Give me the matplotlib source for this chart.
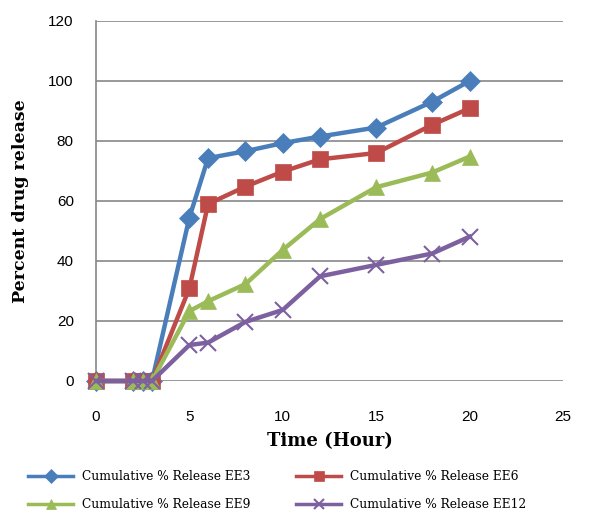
import matplotlib.pyplot as plt
from matplotlib.lines import Line2D

time_h = [0, 2, 2.5, 3, 5, 6, 8, 10, 12, 15, 18, 20]
ee3 = [0, 0, 0, 0, 54.5, 74.3, 76.6, 79.3, 81.5, 84.5, 93.1, 100]
ee6 = [0, 0, 0, 0, 30.9, 59.0, 64.8, 69.8, 73.9, 76.0, 85.4, 90.9]
ee9 = [0, 0, 0, 0, 23.3, 26.6, 32.3, 43.7, 54.0, 64.6, 69.5, 74.8]
ee12 = [0, 0, 0, 0, 12.0, 12.8, 19.7, 23.7, 34.9, 38.7, 42.5, 48.1]
labels = ['Cumulative % Release EE3', 'Cumulative % Release EE6',
          'Cumulative % Release EE9', 'Cumulative % Release EE12']

colors = ['#4A7EBB', '#BE4B48', '#9BBB59', '#7D60A0']
markers = ['D', 's', '^', 'x']
msizes = [10, 12, 12, 11]

fig = plt.figure(figsize=(6.01, 5.14), dpi=100)
ax = fig.add_axes([96/601, 1-381/514, (563-96)/601, (381-21)/514])

for y, c, m, ms in zip([ee3, ee6, ee9, ee12], colors, markers, msizes):
    ax.plot(time_h, y, color=c, lw=3.2, marker=m, ms=ms, mew=1.5 if m == 'x' else 0.5,
            mec=c, clip_on=False, zorder=3)

ax.set_xlim(0, 25)
ax.set_ylim(0, 120)
ax.set_xticks(range(0, 30, 5))
ax.set_yticks(range(0, 140, 20))
ax.grid(axis='y', color='#888888', lw=1.2)
ax.set_axisbelow(True)
for s in ['top', 'right', 'bottom']:
    ax.spines[s].set_visible(False)
ax.spines['left'].set_color('#888888')
ax.spines['left'].set_linewidth(1.2)
ax.tick_params(length=0, labelsize=11)
ax.tick_params(axis='x', pad=21)
ax.tick_params(axis='y', pad=16)
for t in ax.get_xticklabels() + ax.get_yticklabels():
    t.set_fontfamily('Liberation Sans')

ax.set_xlabel('Time (Hour)', fontfamily='DejaVu Serif', fontweight='bold', fontsize=13, labelpad=6)
ax.set_ylabel('Percent drug release', fontfamily='DejaVu Serif', fontweight='bold', fontsize=12.5)
ax.yaxis.set_label_coords(-(96-29)/467, 0.5)

handles = [Line2D([], [], color=c, lw=2.5, marker=m, ms=7, mew=1.5 if m == 'x' else 0.5)
           for c, m in zip(colors, markers)]
# legend fills column-wise, so reorder to get EE3/EE6 on the first row
order = [0, 2, 1, 3]
fig.legend([handles[i] for i in order], [labels[i] for i in order],
           loc='upper left', bbox_to_anchor=(17/601, 1-459/514),
           ncol=2, frameon=False, handlelength=3.7, handletextpad=0.75, columnspacing=3.7,
           prop={'family': 'DejaVu Serif', 'size': 8.8}, labelspacing=1.25)

fig.savefig('out.png', dpi=100)
